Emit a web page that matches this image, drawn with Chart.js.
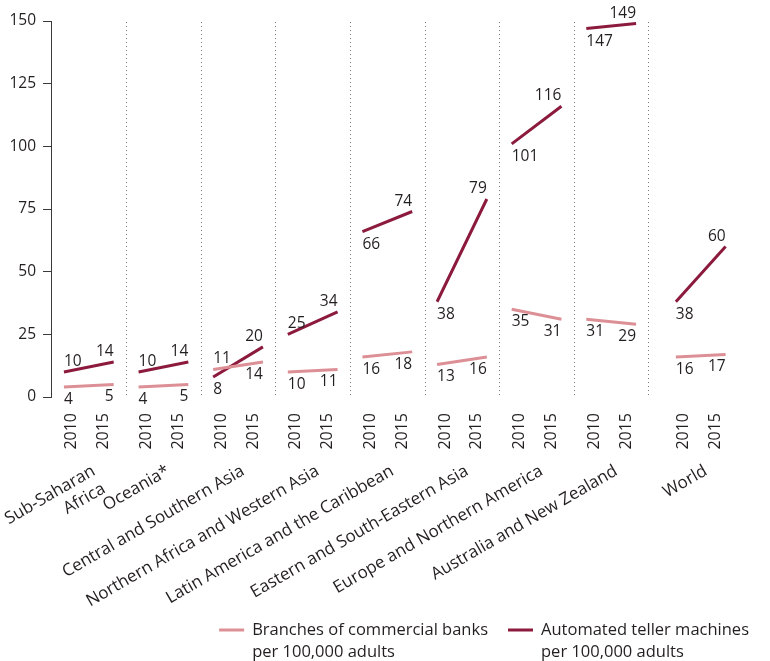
<!DOCTYPE html>
<html>
<head>
<meta charset="utf-8">
<script src="https://cdn.jsdelivr.net/npm/chart.js@4.4.1/dist/chart.umd.min.js"></script>
<style>
  html, body { margin: 0; padding: 0; background: #fff; }
  #wrap { width: 770px; height: 661px; position: relative; }
</style>
</head>
<body>
<div id="wrap"><canvas id="bankChart" width="770" height="661"></canvas></div>
<script>
var regions = [
    ['Sub-Saharan', 'Africa'],
    'Oceania*',
    'Central and Southern Asia',
    'Northern Africa and Western Asia',
    'Latin America and the Caribbean',
    'Eastern and South-Eastern Asia',
    'Europe and Northern America',
    'Australia and New Zealand',
    'World'
];
var years = ['2010', '2015'];
var branches2010 = [4, 4, 11, 10, 16, 13, 35, 31, 16];
var branches2015 = [5, 5, 14, 11, 18, 16, 31, 29, 17];
var atm2010 = [10, 10, 8, 25, 66, 38, 101, 147, 38];
var atm2015 = [14, 14, 20, 34, 74, 79, 116, 149, 60];
var seriesNames = [
    ['Branches of commercial banks', 'per 100,000 adults'],
    ['Automated teller machines', 'per 100,000 adults']
];

// where the value labels sit (above / below the line end)
var branchSide2010 = ['below', 'below', 'above', 'below', 'below', 'below', 'below', 'below', 'below'];
var atmSide2010 = ['above', 'above', 'below', 'above', 'below', 'below', 'below', 'below', 'below'];
var branchSide2015 = 'below';
var atmSide2015 = 'above';

var textColor = '#231f20';
var fontFamily = '"Open Sans", sans-serif';
var worldGap = 0.6;

function xAt(g, yi) {
    return g * 3 + yi * 2 + (g === regions.length - 1 ? worldGap : 0);
}

function buildSeries(v10, v15) {
    var pts = [];
    regions.forEach(function (r, g) {
        pts.push({ x: xAt(g, 0), y: v10[g] });
        pts.push({ x: xAt(g, 1), y: v15[g] });
        pts.push({ x: xAt(g, 1) + 0.5, y: null });
    });
    return pts;
}

function buildSides(s10, s15) {
    var out = [];
    regions.forEach(function (r, g) {
        out.push(s10[g]);
        out.push(s15);
        out.push(null);
    });
    return out;
}

var yearTicks = [];
var yearLabels = [];
var regionTicks = [];
var separators = [];
regions.forEach(function (r, g) {
    yearTicks.push(xAt(g, 0) + 0.32);
    yearLabels.push(years[0]);
    yearTicks.push(xAt(g, 1) - 0.4);
    yearLabels.push(years[1]);
    regionTicks.push(xAt(g, 0) + 1.2);
    if (g < regions.length - 1) separators.push(xAt(g, 1) + 0.5);
});

var separatorLines = {
    id: 'separatorLines',
    beforeDatasetsDraw: function (chart) {
        var ctx = chart.ctx, area = chart.chartArea, sx = chart.scales.x;
        ctx.save();
        ctx.strokeStyle = '#7a7a7a';
        ctx.lineWidth = 1;
        ctx.setLineDash([1, 3]);
        separators.forEach(function (v) {
            var px = Math.round(sx.getPixelForValue(v)) + 0.5;
            ctx.beginPath();
            ctx.moveTo(px, area.top + 1);
            ctx.lineTo(px, area.bottom);
            ctx.stroke();
        });
        ctx.restore();
    }
};

var valueLabels = {
    id: 'valueLabels',
    afterDatasetsDraw: function (chart) {
        var ctx = chart.ctx;
        ctx.save();
        ctx.font = '15.5px ' + fontFamily;
        ctx.fillStyle = textColor;
        ctx.textBaseline = 'alphabetic';
        chart.data.datasets.forEach(function (ds, di) {
            var meta = chart.getDatasetMeta(di);
            ds.data.forEach(function (p, i) {
                if (p.y === null) return;
                var el = meta.data[i];
                ctx.textAlign = (i % 3 === 0) ? 'left' : 'right';
                var ty = ds.sides[i] === 'above' ? el.y - 6 : el.y + 17;
                ctx.fillText(String(p.y), el.x, ty);
            });
        });
        ctx.restore();
    }
};

var twoLineLegend = {
    id: 'twoLineLegend',
    afterDraw: function (chart) {
        var ctx = chart.ctx;
        ctx.save();
        ctx.font = '16.5px ' + fontFamily;
        var sets = chart.data.datasets;
        var widths = sets.map(function (ds) {
            return Math.max.apply(null, ds.label.map(function (t) { return ctx.measureText(t).width; }));
        });
        var marker = 25, gap = 8, itemGap = 20;
        var total = 0;
        widths.forEach(function (w, i) { total += marker + gap + w + (i ? itemGap : 0); });
        var x = chart.width - 21 - total;
        var base = chart.height - 26;
        sets.forEach(function (ds, i) {
            ctx.strokeStyle = ds.borderColor;
            ctx.lineWidth = 3;
            ctx.beginPath();
            ctx.moveTo(x, base - 5);
            ctx.lineTo(x + marker, base - 5);
            ctx.stroke();
            ctx.fillStyle = textColor;
            ctx.textAlign = 'left';
            ctx.textBaseline = 'alphabetic';
            ds.label.forEach(function (t, li) {
                ctx.fillText(t, x + marker + gap, base + li * 22);
            });
            x += marker + gap + widths[i] + itemGap;
        });
        ctx.restore();
    }
};

var ctx = document.getElementById('bankChart').getContext('2d');
var bankChart = new Chart(ctx, {
    type: 'line',
    data: {
        datasets: [{
            label: seriesNames[0],
            data: buildSeries(branches2010, branches2015),
            sides: buildSides(branchSide2010, branchSide2015),
            borderColor: '#dc9096',
            borderWidth: 3,
            pointRadius: 0,
            spanGaps: false
        }, {
            label: seriesNames[1],
            data: buildSeries(atm2010, atm2015),
            sides: buildSides(atmSide2010, atmSide2015),
            borderColor: '#8c1a3c',
            borderWidth: 3,
            pointRadius: 0,
            spanGaps: false
        }]
    },
    options: {
        responsive: false,
        animation: false,
        layout: { padding: { top: 21, right: 22, left: 0, bottom: 0 } },
        plugins: {
            legend: { display: false },
            tooltip: { enabled: false }
        },
        scales: {
            x: {
                type: 'linear',
                position: 'bottom',
                weight: 0,
                bounds: 'data',
                min: -0.52,
                max: 27.5,
                grid: { display: false, drawTicks: false },
                border: { display: false },
                afterBuildTicks: function (s) {
                    s.ticks = yearTicks.map(function (v) { return { value: v }; });
                },
                afterFit: function (s) {
                    s.height = 56;
                    s.paddingLeft = 0;
                    s.paddingRight = 0;
                },
                ticks: {
                    autoSkip: false,
                    minRotation: 90,
                    maxRotation: 90,
                    padding: 16,
                    color: textColor,
                    font: { family: fontFamily, size: 16 },
                    callback: function (v, i) { return yearLabels[i]; }
                }
            },
            xr: {
                type: 'linear',
                position: 'bottom',
                weight: 1,
                bounds: 'data',
                min: -0.52,
                max: 27.5,
                grid: { display: false, drawTicks: false },
                border: { display: false },
                afterBuildTicks: function (s) {
                    s.ticks = regionTicks.map(function (v) { return { value: v }; });
                },
                afterFit: function (s) {
                    s.height = 208;
                    s.paddingLeft = 0;
                    s.paddingRight = 0;
                },
                ticks: {
                    autoSkip: false,
                    minRotation: 30,
                    maxRotation: 30,
                    padding: 8,
                    color: textColor,
                    font: { family: fontFamily, size: 17 },
                    callback: function (v, i) { return regions[i]; }
                }
            },
            y: {
                min: 0,
                max: 150,
                grid: { display: true, drawOnChartArea: false, drawTicks: true, tickLength: 8, color: '#3a3a3a' },
                border: { display: true, color: '#3a3a3a', width: 1 },
                afterFit: function (s) { s.width = 51; },
                ticks: {
                    stepSize: 25,
                    padding: 7,
                    color: textColor,
                    font: { family: fontFamily, size: 15.5 }
                }
            }
        }
    },
    plugins: [separatorLines, valueLabels, twoLineLegend]
});
</script>
</body>
</html>
